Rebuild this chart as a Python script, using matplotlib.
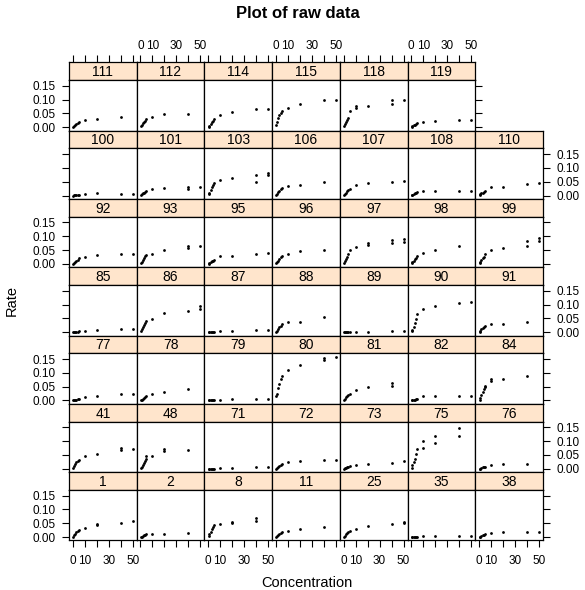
import numpy as np
import matplotlib
matplotlib.use("Agg")
import matplotlib.pyplot as plt

plt.rcParams["font.family"] = ["Liberation Sans", "DejaVu Sans"]

nan = np.nan

# concentrations used in every panel
CONC = [0.5, 1, 2, 3, 4, 5, 10, 20, 40, 50]

# panel layout, top row first (lattice draws bottom-up)
PANEL_ROWS = [
    [111, 112, 114, 115, 118, 119],
    [100, 101, 103, 106, 107, 108, 110],
    [92, 93, 95, 96, 97, 98, 99],
    [85, 86, 87, 88, 89, 90, 91],
    [77, 78, 79, 80, 81, 82, 84],
    [41, 48, 71, 72, 73, 75, 76],
    [1, 2, 8, 11, 25, 35, 38],
]

# rate at each concentration (nan = not measured)
RATE = {
    111: [0.002, 0.005, 0.008, 0.011, 0.014, 0.018, 0.025, 0.031, 0.037, nan],
    112: [0.004, 0.008, 0.014, 0.019, 0.024, 0.030, 0.037, 0.047, 0.049, nan],
    114: [0.002, 0.006, 0.012, 0.018, 0.024, 0.030, 0.046, 0.057, 0.066, 0.066],
    115: [0.008, 0.018, 0.033, 0.045, 0.052, 0.058, 0.070, 0.085, 0.100, 0.100],
    118: [0.005, 0.012, 0.020, 0.028, 0.035, 0.058, 0.070, 0.078, 0.085, 0.100],
    119: [0.002, 0.004, 0.007, 0.010, 0.012, 0.015, 0.020, 0.023, 0.026, 0.028],
    100: [0.000, 0.001, 0.001, 0.002, 0.002, 0.003, 0.006, 0.008, 0.007, 0.007],
    101: [0.002, 0.005, 0.008, 0.011, 0.013, 0.016, 0.024, 0.028, 0.025, 0.031],
    103: [0.004, 0.010, 0.020, 0.030, 0.038, 0.045, 0.057, 0.065, 0.050, 0.074],
    106: [0.002, 0.006, 0.012, 0.018, 0.022, 0.026, 0.035, 0.040, 0.048, nan],
    107: [0.002, 0.006, 0.011, 0.016, 0.020, 0.025, 0.038, 0.045, 0.049, 0.053],
    108: [0.001, 0.003, 0.005, 0.008, 0.010, 0.012, 0.016, 0.016, 0.018, 0.018],
    110: [0.001, 0.004, 0.008, 0.011, 0.014, 0.018, 0.030, 0.031, 0.042, 0.045],
    92: [0.001, 0.004, 0.008, 0.012, 0.015, 0.020, 0.025, 0.031, 0.037, 0.037],
    93: [0.003, 0.008, 0.015, 0.021, 0.027, 0.033, 0.037, 0.052, 0.058, 0.064],
    95: [0.001, 0.003, 0.006, 0.009, 0.012, 0.015, 0.028, 0.030, 0.037, 0.041],
    96: [0.002, 0.006, 0.012, 0.018, 0.024, 0.030, 0.035, 0.047, 0.052, nan],
    97: [0.004, 0.010, 0.018, 0.025, 0.037, 0.050, 0.061, 0.067, 0.077, 0.080],
    98: [0.002, 0.006, 0.011, 0.016, 0.020, 0.028, 0.040, 0.052, 0.063, nan],
    99: [0.003, 0.008, 0.014, 0.020, 0.026, 0.035, 0.049, 0.057, 0.064, 0.081],
    85: [0.000, 0.001, 0.001, 0.002, 0.002, 0.003, 0.006, 0.007, 0.010, 0.010],
    86: [0.004, 0.010, 0.018, 0.025, 0.032, 0.040, 0.048, 0.070, 0.078, 0.084],
    87: [0.000, 0.000, 0.001, 0.001, 0.001, 0.002, 0.003, 0.003, 0.007, 0.007],
    88: [0.002, 0.006, 0.012, 0.018, 0.024, 0.030, 0.037, 0.037, 0.054, nan],
    89: [0.000, 0.000, 0.001, 0.001, 0.001, 0.001, 0.002, 0.002, 0.004, 0.004],
    90: [0.004, 0.007, 0.020, 0.034, 0.048, 0.064, 0.085, 0.094, 0.104, 0.108],
    91: [0.002, 0.005, 0.010, 0.014, 0.018, 0.022, 0.028, 0.031, 0.036, nan],
    77: [0.000, 0.001, 0.002, 0.003, 0.004, 0.006, 0.012, 0.017, 0.024, 0.025],
    78: [0.001, 0.003, 0.006, 0.009, 0.012, 0.015, 0.023, 0.031, 0.042, nan],
    79: [0.000, 0.000, 0.001, 0.001, 0.001, 0.002, 0.003, 0.004, 0.006, 0.006],
    80: [0.015, 0.025, 0.045, 0.060, 0.078, 0.090, 0.110, 0.130, 0.148, 0.158],
    81: [0.002, 0.006, 0.011, 0.016, 0.020, 0.025, 0.037, 0.049, 0.054, nan],
    82: [0.000, 0.001, 0.002, 0.003, 0.004, 0.005, 0.016, 0.016, 0.018, 0.018],
    84: [0.003, 0.010, 0.020, 0.030, 0.040, 0.048, 0.070, 0.078, 0.088, nan],
    41: [0.004, 0.010, 0.017, 0.023, 0.028, 0.033, 0.048, 0.055, 0.067, 0.070],
    48: [0.003, 0.008, 0.015, 0.022, 0.028, 0.034, 0.046, 0.063, 0.067, nan],
    71: [0.000, 0.000, 0.000, 0.001, 0.001, 0.001, 0.002, 0.003, 0.005, 0.005],
    72: [0.001, 0.004, 0.008, 0.011, 0.015, 0.019, 0.023, 0.028, 0.031, 0.031],
    73: [0.000, 0.002, 0.004, 0.006, 0.008, 0.010, 0.013, 0.018, 0.022, 0.028],
    75: [0.004, 0.012, 0.025, 0.035, 0.052, 0.070, 0.076, 0.094, 0.118, nan],
    76: [0.000, 0.001, 0.003, 0.005, 0.007, 0.008, 0.013, 0.016, 0.018, nan],
    1: [0.002, 0.006, 0.012, 0.018, 0.022, 0.026, 0.034, 0.042, 0.050, 0.057],
    2: [0.000, 0.002, 0.004, 0.006, 0.008, 0.010, 0.010, 0.012, 0.016, nan],
    8: [0.003, 0.010, 0.020, 0.030, 0.037, 0.042, 0.047, 0.050, 0.057, nan],
    11: [0.000, 0.003, 0.007, 0.010, 0.013, 0.017, 0.023, 0.030, 0.038, nan],
    25: [0.000, 0.004, 0.010, 0.015, 0.018, 0.022, 0.029, 0.041, 0.048, 0.050],
    35: [0.000, 0.000, 0.001, 0.001, 0.002, 0.002, 0.003, 0.004, 0.005, 0.005],
    38: [0.000, 0.002, 0.004, 0.007, 0.009, 0.011, 0.014, 0.017, 0.018, 0.019],
}

# second measurements (concentration, rate)
REPLICATES = {
    118: [(10, 0.078), (40, 0.100)],
    101: [(40, 0.030)],
    103: [(40, 0.074), (50, 0.080)],
    93: [(40, 0.066)],
    97: [(20, 0.077), (40, 0.088), (50, 0.090)],
    99: [(40, 0.081), (50, 0.095)],
    86: [(50, 0.096)],
    80: [(40, 0.155)],
    81: [(40, 0.064)],
    84: [(5, 0.052), (10, 0.076)],
    41: [(40, 0.075)],
    48: [(5, 0.045), (20, 0.070)],
    75: [(10, 0.100), (20, 0.118), (40, 0.148)],
    1: [(20, 0.048)],
    8: [(20, 0.055), (40, 0.068)],
    25: [(50, 0.056)],
}

X_TICKS = [0, 10, 20, 30, 40, 50]
X_LABELS = ["0", "10", "", "30", "", "50"]
Y_TICKS = [0.00, 0.05, 0.10, 0.15]

W, H = 585, 590
LEFT, TOP = 69.0, 62.3
COL_W, ROW_H, STRIP_H = 67.7, 68.3, 17.7
XLIM = (-3.1, 53.3)
YLIM = (-0.012, 0.171)
STRIP_COLOR = "#ffe5cc"
TICK_FS = 8.5
TICK_LEN = 4.7


def frac_box(x0, y0, w, h):
    return [x0 / W, 1 - (y0 + h) / H, w / W, h / H]


fig = plt.figure(figsize=(W / 100, H / 100), dpi=100)
n_rows = len(PANEL_ROWS)

for r, row in enumerate(PANEL_ROWS):
    for c, pid in enumerate(row):
        x0 = LEFT + c * COL_W
        y0 = TOP + r * ROW_H

        st = fig.add_axes(frac_box(x0, y0, COL_W, STRIP_H))
        st.set_facecolor(STRIP_COLOR)
        st.set_xlim(XLIM)
        st.set_ylim(0, 1)
        st.set_yticks([])
        st.text(0.5, 0.45, str(pid), transform=st.transAxes,
                ha="center", va="center", fontsize=10)
        if r == 0:
            st.xaxis.set_ticks_position("top")
            st.set_xticks(X_TICKS)
            st.set_xticklabels(X_LABELS if c % 2 == 1 else [""] * 6)
            st.tick_params(axis="x", direction="out", length=TICK_LEN,
                           labelsize=TICK_FS, pad=3)
        else:
            st.set_xticks([])

        ax = fig.add_axes(frac_box(x0, y0 + STRIP_H, COL_W, ROW_H - STRIP_H))
        ax.plot(CONC, RATE[pid], "o", ms=2.0, color="black", mec="none")
        reps = REPLICATES.get(pid, [])
        if reps:
            ax.plot([p[0] for p in reps], [p[1] for p in reps], "o",
                    ms=2.0, color="black", mec="none")
        ax.set_xlim(XLIM)
        ax.set_ylim(YLIM)

        if r == n_rows - 1:
            ax.set_xticks(X_TICKS)
            ax.set_xticklabels(X_LABELS if c % 2 == 0 else [""] * 6)
            ax.tick_params(axis="x", direction="out", length=TICK_LEN,
                           labelsize=TICK_FS, pad=6)
        else:
            ax.set_xticks([])

        first = c == 0
        last = c == len(row) - 1
        if first or last:
            ax.set_yticks(Y_TICKS)
            ax.tick_params(axis="y", direction="out", length=TICK_LEN,
                           labelsize=TICK_FS, pad=5,
                           left=first, right=last,
                           labelleft=first and r % 2 == 0,
                           labelright=last and r % 2 == 1)
            ax.yaxis.set_major_formatter(plt.FormatStrFormatter("%.2f"))
        else:
            ax.set_yticks([])

        for a in (ax, st):
            for s in a.spines.values():
                s.set_linewidth(0.9)

fig.text(297.5 / W, 1 - 14 / H, "Plot of raw data", ha="center",
         va="center", fontsize=12, fontweight="bold")
fig.text(306.5 / W, 1 - 583 / H, "Concentration", ha="center",
         va="center", fontsize=10.5)
fig.text(12 / W, 1 - 300 / H, "Rate", ha="center", va="center",
         fontsize=10.5, rotation=90)

fig.savefig("out.png", dpi=100)
